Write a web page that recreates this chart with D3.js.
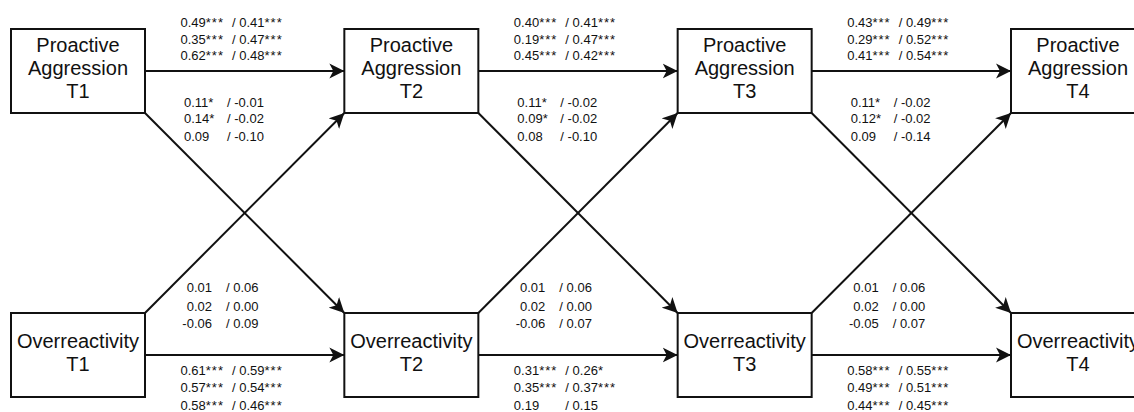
<!DOCTYPE html>
<html>
<head>
<meta charset="utf-8">
<script src="https://cdn.jsdelivr.net/npm/d3@7"></script>
<style>
  body { margin: 0; background: #fff; overflow: hidden; }
  text { font-family: "Liberation Sans", Arial, Helvetica, sans-serif; fill: #111; }
</style>
</head>
<body>
<div id="chart"></div>
<script>
// waves and constructs
var waves = ["T1", "T2", "T3", "T4"];
var constructs = ["Proactive Aggression", "Overreactivity"];
var boxLines = [["Proactive", "Aggression"], ["Overreactivity"]];

// coefficients per lag (T1->T2, T2->T3, T3->T4), three rows each: [left, right]
var paStability = [
  [["0.49***", "0.41***"], ["0.35***", "0.47***"], ["0.62***", "0.48***"]],
  [["0.40***", "0.41***"], ["0.19***", "0.47***"], ["0.45***", "0.42***"]],
  [["0.43***", "0.49***"], ["0.29***", "0.52***"], ["0.41***", "0.54***"]]
];
var orStability = [
  [["0.61***", "0.59***"], ["0.57***", "0.54***"], ["0.58***", "0.46***"]],
  [["0.31***", "0.26*"], ["0.35***", "0.37***"], ["0.19", "0.15"]],
  [["0.58***", "0.55***"], ["0.49***", "0.51***"], ["0.44***", "0.45***"]]
];
var crossUpper = [
  [["0.11*", "-0.01"], ["0.14*", "-0.02"], ["0.09", "-0.10"]],
  [["0.11*", "-0.02"], ["0.09*", "-0.02"], ["0.08", "-0.10"]],
  [["0.11*", "-0.02"], ["0.12*", "-0.02"], ["0.09", "-0.14"]]
];
var crossLower = [
  [["0.01", "0.06"], ["0.02", "0.00"], ["-0.06", "0.09"]],
  [["0.01", "0.06"], ["0.02", "0.00"], ["-0.06", "0.07"]],
  [["0.01", "0.06"], ["0.02", "0.00"], ["-0.05", "0.07"]]
];

var width = 1134, height = 412;
var boxW = 134, boxH = 84;

var x = d3.scalePoint().domain(waves).range([11, 1011]);
var y = d3.scalePoint().domain(constructs).range([29, 313]);

var svg = d3.select("#chart").append("svg")
  .attr("width", width)
  .attr("height", height);

svg.append("defs").append("marker")
  .attr("id", "head")
  .attr("markerUnits", "userSpaceOnUse")
  .attr("viewBox", "-15 -8 16 16")
  .attr("refX", 0)
  .attr("refY", 0)
  .attr("markerWidth", 16)
  .attr("markerHeight", 16)
  .attr("orient", "auto")
  .append("path")
  .attr("d", "M0,0 L-15,-7.5 L-11,0 L-15,7.5 Z")
  .style("fill", "#111");

// paths between consecutive waves
var lags = d3.range(waves.length - 1);
var arrows = [];
lags.forEach(function(i) {
  var a = waves[i], b = waves[i + 1];
  arrows.push({x1: x(a) + boxW, y1: y(constructs[0]) + boxH / 2, x2: x(b), y2: y(constructs[0]) + boxH / 2});
  arrows.push({x1: x(a) + boxW, y1: y(constructs[1]) + boxH / 2, x2: x(b), y2: y(constructs[1]) + boxH / 2});
  arrows.push({x1: x(a) + boxW, y1: y(constructs[0]) + boxH, x2: x(b), y2: y(constructs[1])});
  arrows.push({x1: x(a) + boxW, y1: y(constructs[1]), x2: x(b), y2: y(constructs[0]) + boxH});
});

svg.append("g").selectAll("line")
  .data(arrows)
  .enter().append("line")
  .attr("x1", function(d) { return d.x1; })
  .attr("y1", function(d) { return d.y1; })
  .attr("x2", function(d) { return d.x2; })
  .attr("y2", function(d) { return d.y2; })
  .style("stroke", "#111")
  .style("stroke-width", 2)
  .attr("marker-end", "url(#head)");

// boxes
var nodes = [];
constructs.forEach(function(c, ci) {
  waves.forEach(function(w) {
    nodes.push({c: c, w: w, lines: boxLines[ci].concat([w])});
  });
});

var box = svg.append("g").selectAll("g")
  .data(nodes)
  .enter().append("g")
  .attr("transform", function(d) { return "translate(" + x(d.w) + "," + y(d.c) + ")"; });

box.append("rect")
  .attr("width", boxW)
  .attr("height", boxH)
  .style("fill", "#fff")
  .style("stroke", "#111")
  .style("stroke-width", 2);

box.each(function(d) {
  var n = d.lines.length;
  d3.select(this).selectAll("text")
    .data(d.lines)
    .enter().append("text")
    .attr("x", boxW / 2)
    .attr("y", function(t, i) { return boxH / 2 + 4 + (i - (n - 1) / 2) * 23; })
    .attr("text-anchor", "middle")
    .style("font-size", "20px")
    .text(function(t) { return t; });
});

// coefficient labels
var labels = svg.append("g").style("font-size", "13px");

// number plus its significance stars (stars set a little looser)
function addValue(sel, v) {
  var m = v.match(/^([^*]*)(\**)$/);
  sel.append("tspan").text(m[1]);
  if (m[2]) sel.append("tspan").style("letter-spacing", "1px").text(m[2]);
}

function drawGroup(rows, lag, baselines, ax, anchor, slashX) {
  var x0 = x(waves[lag]) + boxW;
  rows.forEach(function(r, i) {
    var a = labels.append("text")
      .attr("x", x0 + ax)
      .attr("y", baselines[i])
      .attr("text-anchor", anchor);
    addValue(a, r[0]);
    var b = labels.append("text")
      .attr("x", x0 + slashX)
      .attr("y", baselines[i]);
    b.append("tspan").text("/ ");
    addValue(b, r[1]);
  });
}

lags.forEach(function(i) {
  drawGroup(paStability[i], i, [27, 44, 60], 35.5, "start", 87);
  drawGroup(crossUpper[i], i, [107, 123, 141], 39, "start", 82);
  drawGroup(crossLower[i], i, [292, 311, 328], 67, "end", 81);
  drawGroup(orStability[i], i, [375, 392, 410], 35.5, "start", 87);
});
</script>
</body>
</html>
